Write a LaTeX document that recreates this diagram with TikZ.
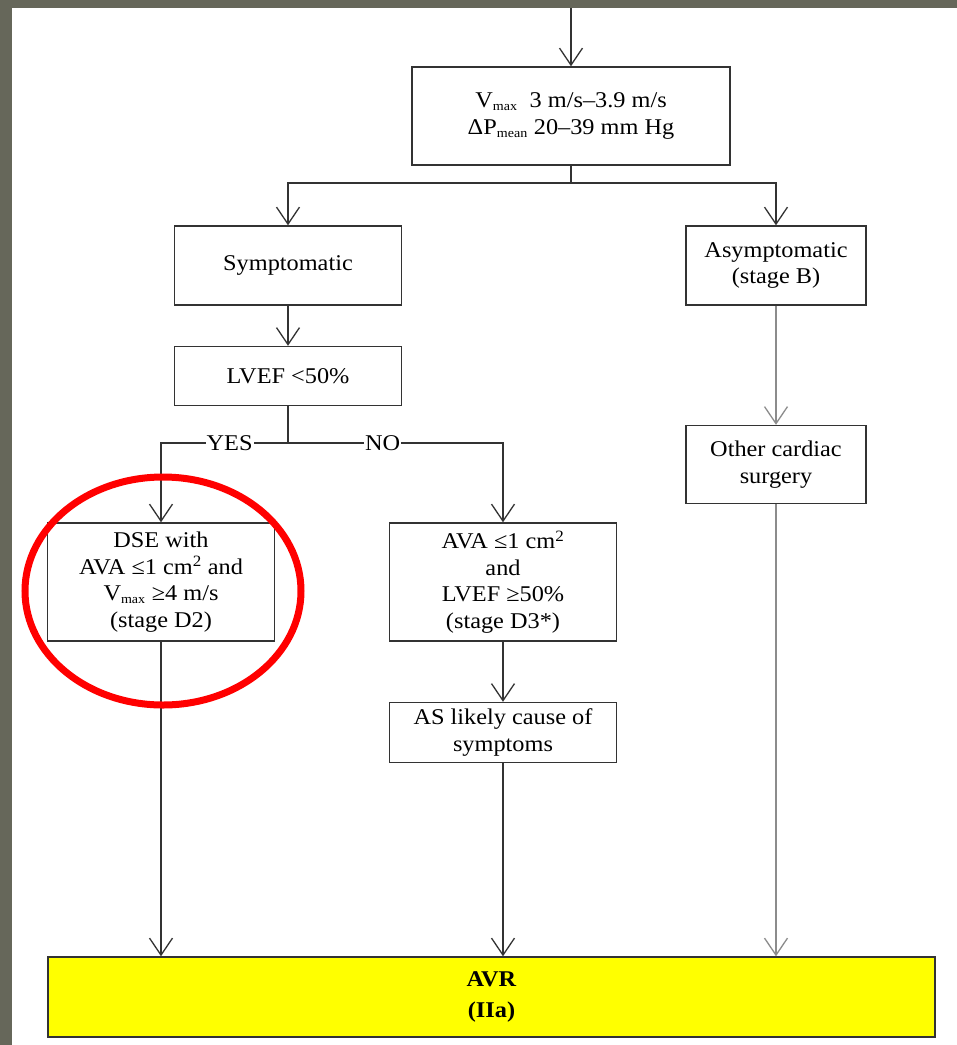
\documentclass[tikz,border=0pt]{standalone}
\usepackage{fontspec}
\setmainfont{Liberation Serif}[FakeStretch=1.08]
\usepackage{xcolor}
\definecolor{flBorder}{HTML}{66675A}
\definecolor{flLine}{HTML}{333333}
\definecolor{flGrey}{HTML}{8C8C8C}
\definecolor{flYellow}{HTML}{FFFF00}
\usetikzlibrary{arrows.meta,positioning}
\tikzset{every box/.style={draw=flLine, line width=1.5pt, align=center, inner sep=0pt, font=\fontsize{22.5}{26.5}\selectfont}}
\tikzset{box/.style={every box, minimum width=227pt}}
\tikzset{side box/.style={every box, minimum width=180pt}}
\tikzset{result/.style={every box, fill=flYellow, minimum width=887pt, minimum height=80pt, font=\fontsize{22.5}{31}\selectfont\bfseries}}
\tikzset{flow/.style={draw=flLine, line width=1.3pt, -{Straight Barb[length=17pt,width=23pt]}}}
\tikzset{line/.style={draw=flLine, line width=1.3pt}}
\tikzset{answer/.style={fill=white, inner sep=1pt, font=\fontsize{22.5}{26.5}\selectfont}}
\newcommand{\sub}[1]{\textsubscript{\fontsize{13}{13}\selectfont #1}}

\begin{document}
\begin{tikzpicture}[x=1pt, y=-1pt, node distance=40pt]
\fill[flBorder] (0,0) rectangle (957,1045);
\fill[white] (12,8) rectangle (957,1045);
\useasboundingbox (0,0) rectangle (957,1045);

\node[every box, minimum width=318pt, minimum height=98pt](vmax) at (571,116){V\sub{max}\ \ 3 m/s–3.9 m/s\\ΔP\sub{mean} 20–39 mm Hg};
\node[box, minimum height=79pt](symp) at (288,265.5){Symptomatic};
\node[side box, minimum height=79pt](asymp) at (776,265.5){Asymptomatic\\(stage B)};
\node[box, minimum height=59pt](lvef)[below=of symp]{LVEF <50\%};
\node[box, minimum height=118pt](dse) at (161,582){DSE with\\AVA ≤1 cm\textsuperscript{2} and\\V\sub{max} ≥4 m/s\\(stage D2)};
\node[box, minimum height=118pt](ava) at (503,582){AVA ≤1 cm\textsuperscript{2}\\and\\LVEF ≥50\%\\(stage D3*)};
\node[box, minimum height=60pt](cause)[below=60pt of ava]{AS likely cause of\\symptoms};
\node[side box, minimum height=78pt](other)[below=119pt of asymp]{Other cardiac\\surgery};
\node[result](avr) at (491.5,997){AVR\\(IIa)};

\coordinate (in) at (571,8);
\coordinate (split) at (571,183);
\coordinate (branch) at (288,443);

\draw[flow] (in) -- (vmax);
\draw[line] (vmax.south) -- (split);
\draw[flow] (split) -| (symp.north);
\draw[flow] (split) -| (asymp.north);
\draw[flow] (symp) -- (lvef);
\draw[line] (lvef.south) -- (branch);
\draw[flow] (branch) -| node[answer, pos=0.23]{YES} (dse.north);
\draw[flow] (branch) -| node[answer, pos=0.22]{NO} (ava.north);
\draw[flow] (ava) -- (cause);
\draw[flow, draw=flGrey] (asymp) -- (other);
\draw[flow] (dse.south) -- (dse.south |- avr.north);
\draw[flow] (cause.south) -- (cause.south |- avr.north);
\draw[flow, draw=flGrey] (other.south) -- (other.south |- avr.north);

\draw[red, line width=7pt] (163,591) ellipse [x radius=138pt, y radius=114pt];
\end{tikzpicture}
\end{document}
